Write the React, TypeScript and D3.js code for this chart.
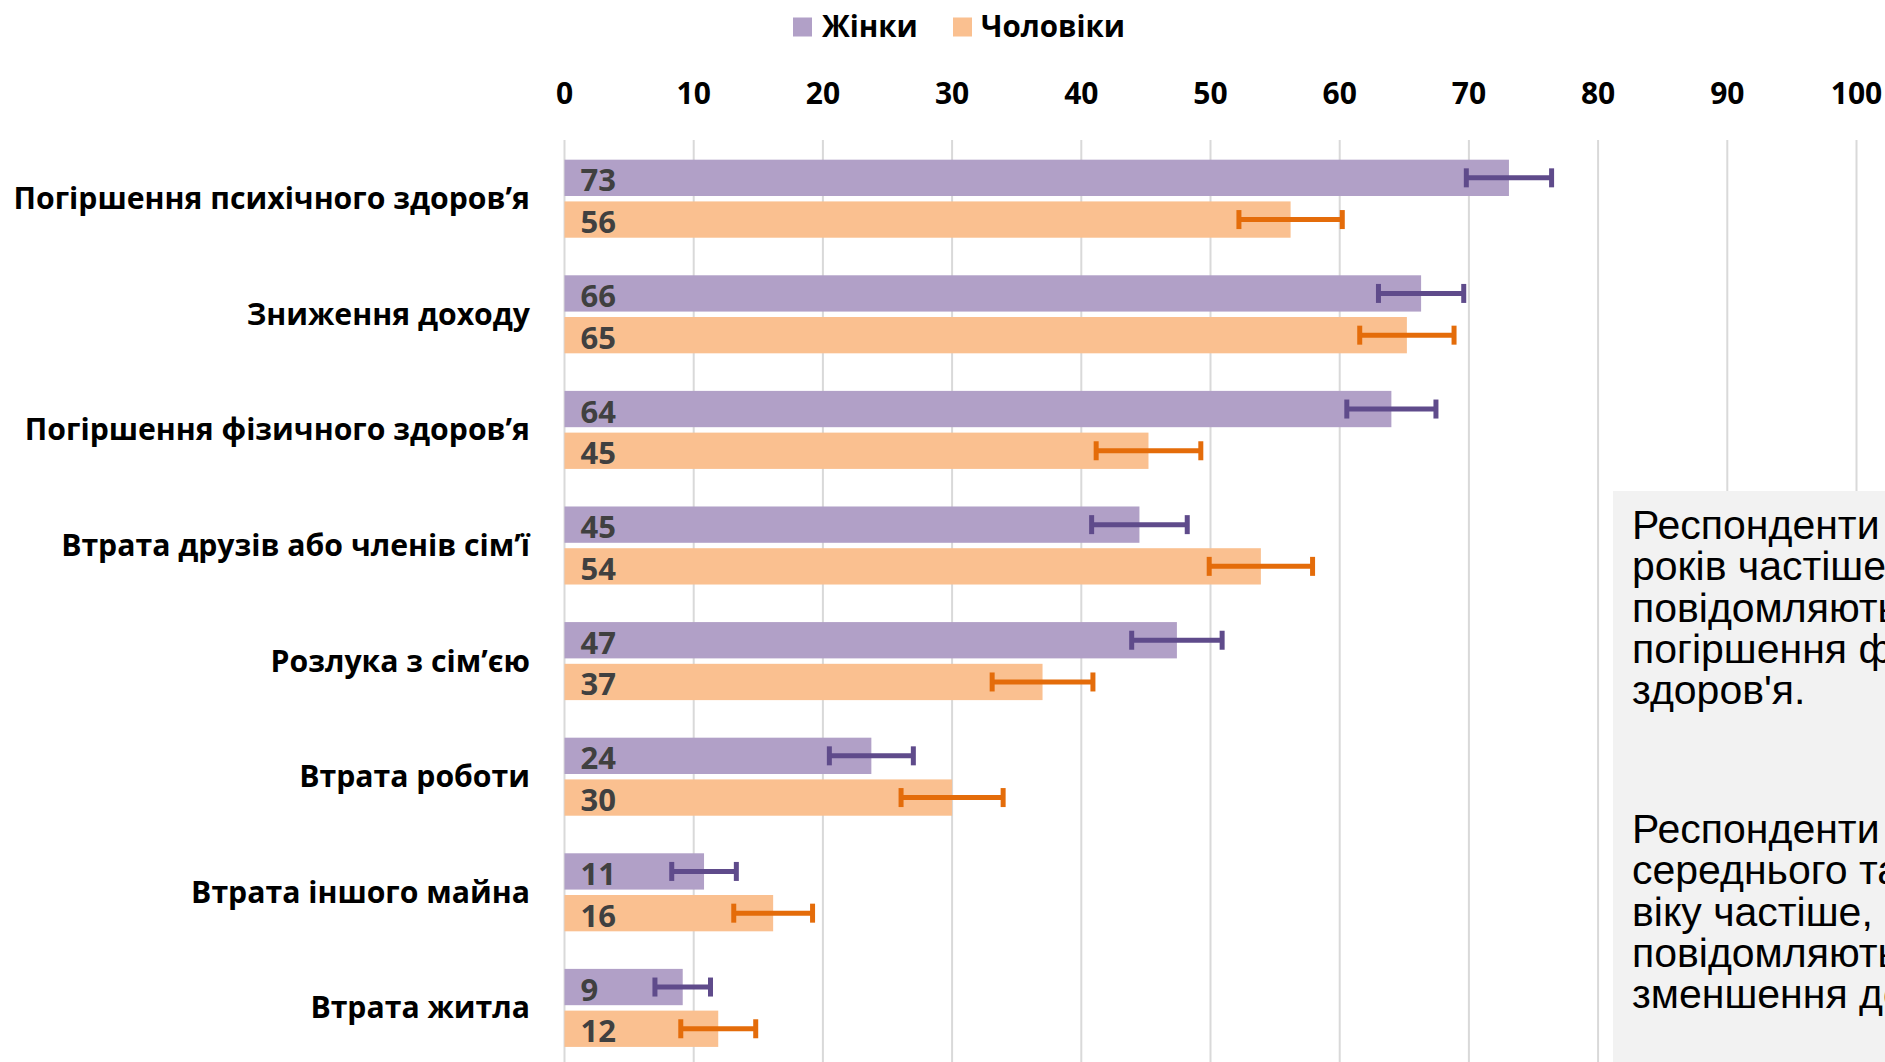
import React, { useEffect } from 'react';
import * as d3 from 'd3';

const categories = [
  'Погіршення психічного здоров’я',
  'Зниження доходу',
  'Погіршення фізичного здоров’я',
  'Втрата друзів або членів сім’ї',
  'Розлука з сім’єю',
  'Втрата роботи',
  'Втрата іншого майна',
  'Втрата житла',
];
const seriesNames = ['Жінки', 'Чоловіки'];
const womenValues = [73.1, 66.3, 64.0, 44.5, 47.4, 23.75, 10.8, 9.15];
const menValues = [56.2, 65.2, 45.2, 53.9, 37.0, 30.0, 16.15, 11.9];
const womenErrors = [3.3, 3.3, 3.45, 3.7, 3.5, 3.25, 2.5, 2.15];
const menErrors = [4.0, 3.65, 4.05, 4.0, 3.9, 3.95, 3.05, 2.9];
const xTicks = [0, 10, 20, 30, 40, 50, 60, 70, 80, 90, 100];
const noteParagraph1 = ['Респонденти', 'років частіше', 'повідомляють', 'погіршення фізичного', 'здоров\'я.'];
const noteParagraph2 = ['Респонденти', 'середнього та', 'віку частіше,', 'повідомляють', 'зменшення доходу'];

const W = 1885;
const H = 1062;
const barColors = ['#b1a0c7', '#fac090'];
const errColors = ['#5f4b8b', '#e46c0a'];
const labelFont = '"Open Sans", "Noto Sans", sans-serif';

export default function App() {
  useEffect(() => {
    document.body.style.margin = '0';
  }, []);

  const x = d3.scaleLinear().domain([0, 100]).range([564.5, 1856.5]);
  const y = d3
    .scaleBand<string>()
    .domain(categories)
    .range([140.9, 1065.7])
    .paddingInner(0.325)
    .paddingOuter(0.1625);
  const sub = d3
    .scaleBand<string>()
    .domain(seriesNames)
    .range([0, y.bandwidth()])
    .paddingInner(0.13);

  const series = [
    { name: seriesNames[0], values: womenValues, errors: womenErrors },
    { name: seriesNames[1], values: menValues, errors: menErrors },
  ];

  const gridTop = 140;
  const gridBottom = y.range()[1];

  return (
    <svg
      width={W}
      height={H}
      style={{ display: 'block', position: 'absolute', left: 0, top: 0 }}
      xmlns="http://www.w3.org/2000/svg"
    >
      <rect x={0} y={0} width={W} height={H} fill="#ffffff" />

      {/* legend */}
      <g fontFamily={labelFont} fontWeight={700} fontSize={29.5}>
        <rect x={793} y={17.5} width={19} height={19} fill={barColors[0]} />
        <text x={822} y={36.5} fill="#000">{seriesNames[0]}</text>
        <rect x={953} y={17.5} width={19} height={19} fill={barColors[1]} />
        <text x={981} y={36.5} fill="#000">{seriesNames[1]}</text>
      </g>

      {/* x ticks + gridlines */}
      <g>
        {xTicks.map((t) => (
          <g key={t}>
            <line
              x1={x(t)}
              x2={x(t)}
              y1={gridTop}
              y2={gridBottom}
              stroke="#d9d9d9"
              strokeWidth={2}
            />
            <text
              x={x(t)}
              y={104}
              textAnchor="middle"
              fontFamily={labelFont}
              fontWeight={700}
              fontSize={30}
              fill="#000"
            >
              {t}
            </text>
          </g>
        ))}
      </g>

      {/* category labels */}
      <g fontFamily={labelFont} fontWeight={700} fontSize={30.2} fill="#000">
        {categories.map((c) => (
          <text key={c} x={530} y={(y(c) as number) + y.bandwidth() / 2 + 10.5} textAnchor="end">
            {c}
          </text>
        ))}
      </g>

      {/* bars */}
      {series.map((s, si) => (
        <g key={s.name}>
          {categories.map((c, i) => {
            const by = (y(c) as number) + (sub(s.name) as number);
            const bh = sub.bandwidth();
            const v = s.values[i];
            return (
              <g key={c}>
                <rect x={x(0)} y={by} width={x(v) - x(0)} height={bh} fill={barColors[si]} />
              </g>
            );
          })}
        </g>
      ))}

      {/* error bars */}
      {series.map((s, si) => (
        <g key={s.name + '-err'} stroke={errColors[si]} strokeWidth={5}>
          {categories.map((c, i) => {
            const cy = (y(c) as number) + (sub(s.name) as number) + sub.bandwidth() / 2;
            const lo = x(s.values[i] - s.errors[i]);
            const hi = x(s.values[i] + s.errors[i]);
            return (
              <g key={c}>
                <line x1={lo} x2={hi} y1={cy} y2={cy} />
                <line x1={lo} x2={lo} y1={cy - 9.5} y2={cy + 9.5} />
                <line x1={hi} x2={hi} y1={cy - 9.5} y2={cy + 9.5} />
              </g>
            );
          })}
        </g>
      ))}

      {/* value labels */}
      {series.map((s) => (
        <g key={s.name + '-lab'} fontFamily={labelFont} fontWeight={700} fontSize={31} fill="#404040">
          {categories.map((c, i) => {
            const cy = (y(c) as number) + (sub(s.name) as number) + sub.bandwidth() / 2;
            return (
              <text key={c} x={x(0) + 16} y={cy + 13.5}>
                {d3.format('.0f')(s.values[i])}
              </text>
            );
          })}
        </g>
      ))}

      {/* note box */}
      <rect x={1613} y={491} width={W - 1613} height={H - 491} fill="#f2f2f2" />
      <g fontFamily='"Liberation Sans", Arial, sans-serif' fontSize={41} fill="#000">
        {noteParagraph1.map((l, i) => (
          <text key={'a' + i} x={1632} y={539 + i * 41.3}>
            {l}
          </text>
        ))}
        {noteParagraph2.map((l, i) => (
          <text key={'b' + i} x={1632} y={843 + i * 41.3}>
            {l}
          </text>
        ))}
      </g>
    </svg>
  );
}
